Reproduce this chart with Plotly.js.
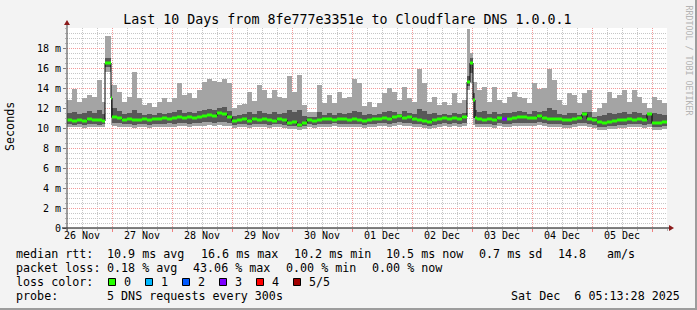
<!DOCTYPE html>
<html><head><meta charset="utf-8">
<script src="https://cdn.plot.ly/plotly-3.0.1.min.js"></script>
<style>
html,body{margin:0;padding:0;background:#f3f3f3;}
#wrap{position:relative;width:697px;height:310px;overflow:hidden;}
#chart{width:697px;height:310px;}
.bd{position:absolute;pointer-events:none;}
</style></head><body>
<div id="wrap"><div id="chart"></div>
<div class="bd" style="left:695px;top:0;width:2px;height:310px;background:#9c9c9c"></div>
<div class="bd" style="left:0;top:308px;width:697px;height:2px;background:#9c9c9c"></div>
</div>
<script>
// ---- data (hours since 26 Nov 00:00, bin starts) ----
const hours = [6,8,10,12,14,16,18,20, 21.2,23.6,
 24,26,28,30,32,34,36,38,40,42,44,46,48,50,52,54,56,58,60,62,64,66,68,70,
 72,74,76,78,80,82,84,86,88,90,92,94,96,98,100,102,104,106,108,110,112,114,116,118,120,122,
 124,126,128,130,132,134,136,138,140,142,144,146,148,150,152,154,156,158,160,162,164,
 166,167.2,168.4,169.2,
 170,172,174,176,178,180,182,184,186,188,190,192,194,196,198,200,202,204,206,208,
 210,212,214,216,218,220,222,224,226,228,230,232,234,236,238,240,242,244];
const endHour = 246;

// slowest ping (top of light smoke), ms
const pingMax = [12.8,13.9,12.6,13.0,13.3,13.1,14.8,12.6, 19.2,14.3,
 14.3,13.6,12.6,13.1,15.6,13.0,12.3,12.5,12.1,12.6,
 13.0,12.6,13.0,14.5,13.3,13.5,13.0,13.8,14.6,14.9,
 14.7,14.6,14.9,14.5,12.0,12.3,12.4,13.6,12.7,14.3,
 13.8,13.0,13.8,13.1,13.0,15.2,13.6,15.3,12.3,11.6,
 11.6,14.3,12.5,13.3,12.5,13.6,13.0,13.1,14.9,14.5,
 12.2,12.6,12.1,12.5,13.5,14.0,13.6,12.8,14.1,13.0,
 12.6,15.9,14.5,12.6,13.1,12.3,12.6,12.3,13.5,12.5,
 12.8,
 19.9,17.5,14.6,14.6,
 13.8,14.1,12.6,14.1,12.8,12.5,13.1,13.6,13.1,13.0,
 12.5,14.5,13.9,14.0,15.9,14.8,12.8,12.3,13.5,13.3,
 12.5,13.5,13.8,11.6,12.0,12.5,13.6,13.0,13.3,13.8,
 12.6,13.8,13.1,12.5,12.0,13.1,12.8,12.5];

// 4th ping (top of dark smoke)
const ping4 = [11.5,11.6,11.4,11.5,11.7,11.5,11.8,11.4, 17.0,13.0,
 12.0,11.7,11.4,11.5,11.8,11.5,11.3,11.4,11.3,11.5,
 11.4,11.5,11.6,11.8,11.5,11.6,11.5,11.7,11.8,11.9,
 11.8,12.0,12.1,11.7,11.2,11.3,11.4,11.6,11.4,11.7,
 11.5,11.4,11.6,11.4,11.5,11.8,11.6,11.8,11.2,11.1,
 11.1,11.6,11.3,11.5,11.3,11.5,11.4,11.5,11.7,11.6,
 11.3,11.4,11.3,11.4,11.6,11.7,11.6,11.4,11.7,11.5,
 11.4,11.9,11.7,11.4,11.5,11.3,11.4,11.3,11.5,11.4,
 11.5,
 15.2,17.0,13.5,11.8,
 11.6,11.7,11.4,11.6,11.4,11.5,11.5,11.6,11.7,11.6,
 11.4,11.7,11.6,11.7,12.0,11.8,11.4,11.3,11.5,11.5,
 11.3,11.6,11.6,11.1,11.2,11.3,11.5,11.4,11.5,11.6,
 11.4,11.6,11.5,11.3,11.5,11.5,11.4,11.3];

// median rtt
const median = [10.8,10.7,10.8,10.7,10.9,10.8,10.8,10.7, 16.5,13.0,
 11.1,11.0,10.8,10.9,10.8,10.8,10.9,10.8,10.9,10.9,
 11.0,10.9,11.0,11.1,11.0,11.1,11.0,11.1,11.2,11.3,
 11.2,11.5,11.4,11.1,10.7,10.8,10.9,10.7,10.9,10.8,
 10.9,10.8,10.7,10.9,10.8,10.5,10.6,10.3,10.5,10.8,
 10.7,10.8,10.9,10.9,10.8,10.9,10.9,10.8,10.9,10.8,
 10.7,10.8,10.9,10.9,11.0,10.9,11.1,11.2,11.0,11.1,
 10.9,10.8,10.7,10.6,10.8,10.9,11.0,10.9,11.0,10.9,
 11.1,
 14.6,16.5,12.8,11.0,
 10.9,10.8,10.9,10.8,11.0,10.9,10.9,11.0,11.1,11.1,
 11.0,11.0,11.2,11.0,10.9,10.9,10.9,10.8,10.8,10.9,
 11.0,11.4,10.9,10.8,10.6,10.5,10.6,10.7,10.8,10.8,
 10.9,10.8,10.9,10.8,11.4,10.5,10.5,10.6];

// 2nd ping (bottom of dark smoke)
const ping2 = [10.4,10.3,10.4,10.3,10.4,10.4,10.3,10.4, 16.1,11.0,
 10.5,10.5,10.4,10.4,10.3,10.4,10.4,10.3,10.4,10.4,
 10.4,10.5,10.4,10.5,10.5,10.4,10.5,10.5,10.6,10.6,
 10.5,10.6,10.6,10.5,10.3,10.4,10.4,10.3,10.4,10.4,
 10.4,10.3,10.4,10.4,10.3,10.2,10.2,10.1,10.2,10.4,
 10.3,10.4,10.4,10.4,10.5,10.4,10.4,10.4,10.4,10.4,
 10.3,10.4,10.4,10.5,10.5,10.4,10.5,10.6,10.5,10.5,
 10.4,10.4,10.3,10.2,10.3,10.4,10.5,10.4,10.5,10.4,
 10.5,
 14.2,15.5,11.0,10.4,
 10.4,10.4,10.4,10.3,10.5,10.4,10.4,10.5,10.5,10.5,
 10.5,10.5,10.6,10.5,10.4,10.4,10.4,10.3,10.3,10.4,
 10.5,10.5,10.4,10.3,10.1,10.1,10.2,10.2,10.3,10.3,
 10.4,10.4,10.4,10.3,10.4,10.1,10.1,10.2];

// fastest ping (bottom of light smoke)
const pingMin = [10.1,10.1,10.1,10.0,10.1,10.1,10.1,10.1, 15.6,10.3,
 10.2,10.1,10.1,10.1,10.0,10.1,10.1,10.0,10.1,10.1,
 10.1,10.1,10.1,10.2,10.2,10.1,10.2,10.2,10.2,10.3,
 10.2,10.3,10.2,10.2,10.0,10.1,10.1,10.0,10.1,10.1,
 10.1,10.0,10.1,10.1,10.0,9.9,9.9,9.8,9.9,10.1,
 10.0,10.1,10.1,10.1,10.2,10.1,10.1,10.1,10.1,10.1,
 10.0,10.1,10.1,10.2,10.2,10.1,10.2,10.3,10.2,10.2,
 10.1,10.1,10.0,9.9,10.0,10.1,10.2,10.1,10.2,10.1,
 10.2,
 13.8,14.5,10.3,10.1,
 10.1,10.1,10.1,10.0,10.2,10.1,10.1,10.2,10.2,10.2,
 10.2,10.2,10.3,10.2,10.1,10.1,10.1,10.0,10.0,10.1,
 10.2,10.2,10.1,10.0,9.8,9.8,9.9,9.9,10.0,10.0,
 10.1,10.1,10.1,10.0,10.1,9.8,9.8,9.9];

// loss level per bin (0..5); one bin with 3 lost
const lossHours = [180];
const lossLevels = [3];

const dayHours = [24,48,72,96,120,144,168,192,216,240];
const labelHours = [12,36,60,84,108,132,156,180,204,228];
const dayLabels = ['26 Nov','27 Nov','28 Nov','29 Nov','30 Nov','01 Dec','02 Dec','03 Dec','04 Dec','05 Dec'];
const yTickVals = [0,2,4,6,8,10,12,14,16,18];
const yTickText = ['0','2 m','4 m','6 m','8 m','10 m','12 m','14 m','16 m','18 m'];

const lossColors = ['#26ff00','#00b8ff','#0059ff','#7e00ff','#ff0000','#a10000'];
const lossLabels = ['0','1','2','3','4','5/5'];

// ---- build ----
const mono = 'DejaVu Sans Mono';
const xs = hours.concat([endHour]);
const ext = a => a.concat([a[a.length-1]]);
function area(y, fill, color){
  return {x: xs, y: ext(y), mode:'lines', line:{width:0, shape:'hv'}, fill: fill, fillcolor: color, hoverinfo:'skip', showlegend:false};
}
const traces = [
  area(pingMin, 'none', null),
  area(pingMax, 'tonexty', '#a4a4a4'),
  area(ping2, 'none', null),
  area(ping4, 'tonexty', '#585858'),
  {x: xs, y: ext(median), mode:'lines', line:{width:1, shape:'hv', color:'#000'}, hoverinfo:'skip', showlegend:false}
];
const segs = {};
hours.forEach((h,i)=>{
  const k = lossHours.indexOf(h);
  const lv = k >= 0 ? lossLevels[k] : 0;
  if(!segs[lv]) segs[lv] = {x:[], y:[]};
  segs[lv].x.push(h, xs[i+1], null);
  segs[lv].y.push(median[i], median[i], null);
});
Object.keys(segs).forEach(lv=>{
  traces.push({x: segs[lv].x, y: segs[lv].y, mode:'lines', line:{width:3, color: lossColors[lv]}, hoverinfo:'skip', showlegend:false, connectgaps:false});
});
traces.push({x:[labelHours[0]], y:[0], xaxis:'x2', mode:'markers', marker:{opacity:0}, hoverinfo:'skip', showlegend:false});

const L=67, R=667, T=28, B=228;
const X = px => (px-L)/(R-L), Y = py => (B-py)/(B-T);
function txt(s, px, py, o){
  return Object.assign({text:s, x:X(px), y:Y(py), xref:'paper', yref:'paper', xanchor:'left', yanchor:'middle',
    showarrow:false, borderpad:0, font:{family:mono, size:11.7, color:'#000'}}, o||{});
}
const ann = [
  txt('median rtt:',15,254), txt('10.9 ms avg',106,254), txt('16.6 ms max',199.7,254), txt('10.2 ms min',293,254),
  txt('10.5 ms now',384.7,254), txt('0.7 ms sd',478.3,254), txt('14.8',557.3,254), txt('am/s',606.3,254),
  txt('packet loss:',15,268), txt('0.18 % avg',106.3,268), txt('43.06 % max',191.7,268), txt('0.00 % min',285,268),
  txt('0.00 % now',371.3,268),
  txt('loss color:',15,282),
  txt('probe:',15,296), txt('5 DNS requests every 300s',106.3,296),
  txt('Sat Dec\u00a0 6 05:13:28 2025',681,296,{xanchor:'right'}),
  txt('Seconds',10,127,{xanchor:'center', textangle:-90}),
  txt('RRDTOOL / TOBI OETIKER',688.5,60,{xanchor:'center', textangle:90, font:{family:mono,size:8.3,color:'#b4b4b4'}})
];
const shapes = [];
lossLabels.forEach((lab,k)=>{
  const x0 = 108.5 + 37*k;
  ann.push(txt(lab, x0+14, 282));
  shapes.push({type:'rect', xref:'paper', yref:'paper', x0:X(x0), x1:X(x0+7), y0:Y(285.5), y1:Y(278.5),
    line:{color:'#000', width:1}, fillcolor: lossColors[k]});
});
shapes.push({type:'line', xref:'paper', yref:'paper', x0:X(62), x1:X(669), y0:0, y1:0, line:{color:'#000', width:1}});
shapes.push({type:'line', xref:'paper', yref:'paper', x0:0, x1:0, y0:Y(232), y1:Y(24), line:{color:'#404040', width:1}});
shapes.push({type:'path', xref:'paper', yref:'paper', path:`M ${X(669)} ${Y(225)} L ${X(674)} ${Y(228)} L ${X(669)} ${Y(231)} Z`, fillcolor:'#8b1a1a', line:{width:0}});
shapes.push({type:'path', xref:'paper', yref:'paper', path:`M ${X(64)} ${Y(25)} L ${X(67)} ${Y(20)} L ${X(70)} ${Y(25)} Z`, fillcolor:'#8b1a1a', line:{width:0}});

const gridMinor = '#c6c6c6', gridMajor = '#f29a9a';
const layout = {
  width:697, height:310, margin:{l:L, r:697-R, t:T, b:310-B},
  paper_bgcolor:'#f3f3f3', plot_bgcolor:'#ffffff',
  title:{text:'Last 10 Days from 8fe777e3351e to Cloudflare DNS 1.0.0.1', font:{family:mono, size:13.3, color:'#000'},
    x:0.4985, xanchor:'center', xref:'container', y:1-19/310, yanchor:'middle', yref:'container'},
  xaxis:{range:[6,endHour], tickmode:'array', tickvals:dayHours, ticktext:dayHours.map(()=>''), showgrid:true,
    gridcolor:gridMajor, griddash:'1px,1px', gridwidth:1, ticks:'outside', ticklen:3, tickcolor:'#f08080', zeroline:false, showline:false,
    minor:{tick0:0, dtick:6, showgrid:true, gridcolor:gridMinor, griddash:'1px,1px', ticks:'outside', ticklen:2, tickcolor:'#b0b0b0'},
    fixedrange:true},
  xaxis2:{range:[6,endHour], overlaying:'x', anchor:'y', side:'bottom', tickmode:'array', tickvals:labelHours, ticktext:dayLabels,
    showgrid:false, zeroline:false, ticks:'', tickfont:{family:mono, size:10, color:'#000'}, fixedrange:true},
  yaxis:{range:[0,20], tickmode:'array', tickvals:yTickVals, ticktext:yTickText, showgrid:true, gridcolor:gridMajor, griddash:'1px,1px',
    ticks:'outside', ticklen:3, tickcolor:'#808080', zeroline:false, showline:false, tickfont:{family:mono, size:10, color:'#000'},
    minor:{tick0:0, dtick:0.5, showgrid:true, gridcolor:gridMinor, griddash:'1px,1px', ticks:'outside', ticklen:1, tickcolor:'#b0b0b0'},
    fixedrange:true},
  annotations: ann, shapes: shapes, showlegend:false
};
Plotly.newPlot('chart', traces, layout, {staticPlot:true, displayModeBar:false});
</script>
</body></html>
